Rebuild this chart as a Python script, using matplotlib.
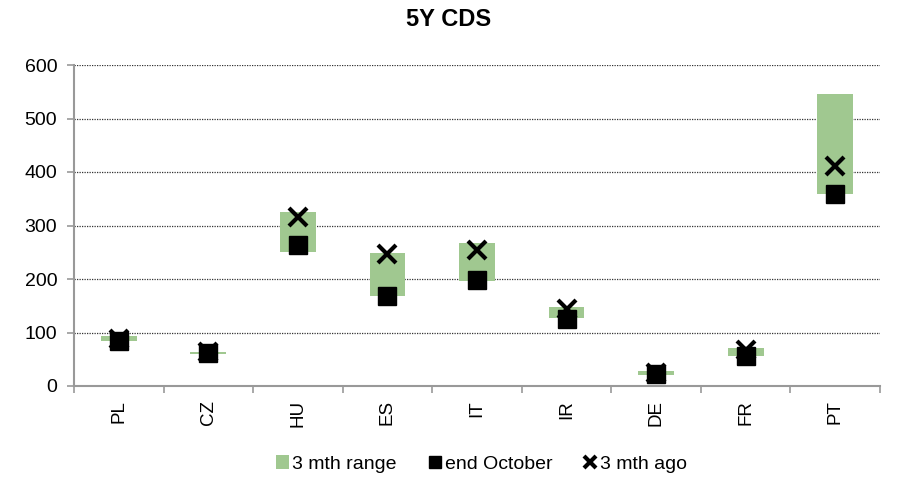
import matplotlib
matplotlib.use("Agg")
import matplotlib.pyplot as plt
from matplotlib.lines import Line2D
from matplotlib.patches import Patch
import numpy as np

plt.rcParams['font.family'] = ['Liberation Sans', 'DejaVu Sans']

countries = ["PL", "CZ", "HU", "ES", "IT", "IR", "DE", "FR", "PT"]
range_low = [84, 59, 251, 168, 197, 128, 21, 56, 358]
range_high = [93, 64, 326, 249, 268, 148, 28, 71, 545]
end_october = [84, 61, 263, 168, 198, 125, 23, 56, 359]
three_mth_ago = [87, 63, 316, 246, 254, 144, 25, 67, 411]

fig = plt.figure(figsize=(8.98, 4.78), dpi=100)
ax = fig.add_axes([74/898, (478-386)/478, (880-74)/898, (386-65)/478])

x = np.arange(len(countries))
green = "#a0c890"
ax.bar(x, np.array(range_high) - np.array(range_low), bottom=range_low,
       width=0.4, color=green, zorder=2)
ax.plot(x, end_october, linestyle="none", marker="s", markersize=13,
        color="black", zorder=3)
ax.plot(x, three_mth_ago, linestyle="none", marker="x", markersize=13,
        markeredgewidth=3, color="black", zorder=4)

ax.set_xlim(-0.5, len(countries) - 0.5)
ax.set_ylim(0, 600)
ax.set_yticks(range(0, 601, 100))
ax.yaxis.grid(True, linestyle=(0, (1, 1)), color="#333333", linewidth=0.9, zorder=0)
ax.set_axisbelow(True)

ax.set_xticks(x)
ax.set_xticklabels(countries, rotation=90, fontsize=13.5)
ax.set_xticks(np.arange(-0.5, len(countries)), minor=True)
ax.tick_params(axis='x', which='major', length=0, pad=10)
ax.tick_params(axis='x', which='minor', length=5, color="#999999", width=1.2)
ax.tick_params(axis='y', length=5, color="#999999", width=1.2, labelsize=14, pad=7)

for s in ["top", "right"]:
    ax.spines[s].set_visible(False)
for s in ["left", "bottom"]:
    ax.spines[s].set_color("#999999")
    ax.spines[s].set_linewidth(1.5)

fig.text(0.5, 1 - 20/478, "5Y CDS", ha="center", va="center",
         fontsize=17, fontweight="bold")

handles = [
    Patch(facecolor=green, edgecolor="none"),
    Line2D([], [], linestyle="none", marker="s", markersize=9, color="black"),
    Line2D([], [], linestyle="none", marker="x", markersize=9, markeredgewidth=3, color="black"),
]
fig.legend(handles, ["3 mth range", "end October", "3 mth ago"],
           loc="center", bbox_to_anchor=(0.536, 1 - 464/478), ncol=3,
           frameon=False, fontsize=14, handlelength=0.7, handletextpad=0.15,
           columnspacing=1.6)

fig.savefig("out.png", dpi=100)
